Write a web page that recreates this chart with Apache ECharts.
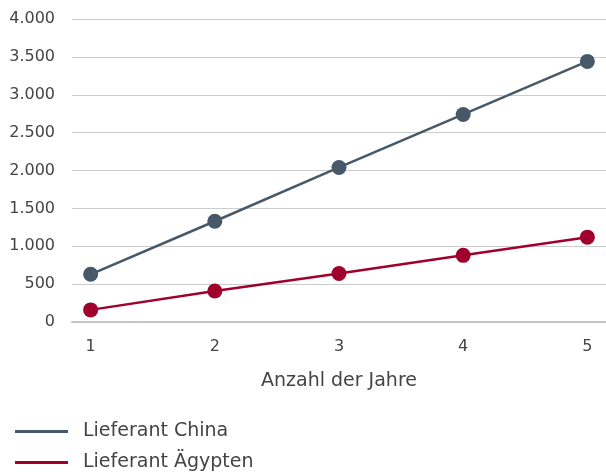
<!DOCTYPE html>
<html>
<head>
<meta charset="utf-8">
<script src="https://cdn.jsdelivr.net/npm/echarts@6/dist/echarts.min.js"></script>
<style>
html,body{margin:0;padding:0;background:#fff;}
#c{width:606px;height:474px;}
</style>
</head>
<body>
<div id="c"></div>
<script>
var years = [1, 2, 3, 4, 5];
var china = [630, 1330, 2040, 2740, 3440];
var egypt = [160, 410, 640, 880, 1120];
var seriesNames = ['Lieferant China', 'Lieferant Ägypten'];
var xAxisTitle = 'Anzahl der Jahre';

function pairs(vals){ return years.map(function(x,i){ return [x, vals[i]]; }); }
function fmt(v){ return String(v).replace(/\B(?=(\d{3})+(?!\d))/g, '.'); }

var font = '"DejaVu Sans", "Noto Sans", sans-serif';
var chart = echarts.init(document.getElementById('c'));
chart.setOption({
  animation: false,
  textStyle: {fontFamily: font},
  grid: {left: 72, right: 0, top: 19, bottom: 152, containLabel: false},
  xAxis: {
    type: 'value', min: 0.85, max: 5.15,
    name: xAxisTitle, nameLocation: 'middle', nameGap: 50,
    nameTextStyle: {fontSize: 19, color: '#444', fontFamily: font},
    axisLine: {show: true, lineStyle: {color: '#c4c4c4', width: 2}},
    axisTick: {show: false},
    splitLine: {show: false},
    axisLabel: {customValues: years, fontSize: 16, color: '#444', margin: 17, fontFamily: font}
  },
  yAxis: {
    type: 'value', min: 0, max: 4000, interval: 500,
    axisLine: {show: false}, axisTick: {show: false},
    splitLine: {lineStyle: {color: '#cccccc', width: 1}},
    axisLabel: {formatter: fmt, fontSize: 16, color: '#444', margin: 17, fontFamily: font}
  },
  legend: {
    orient: 'vertical', left: 15, top: 422, itemGap: 12, padding: 0,
    icon: 'rect', itemWidth: 53, itemHeight: 3,
    textStyle: {fontSize: 19, lineHeight: 18, color: '#444', fontFamily: font, padding: [0,0,0,10]},
    data: seriesNames
  },
  series: [
    {name: seriesNames[0], type: 'line', data: pairs(china), symbol: 'circle', symbolSize: 15,
     lineStyle: {color: '#475968', width: 2.5}, itemStyle: {color: '#475968'}, z: 3},
    {name: seriesNames[1], type: 'line', data: pairs(egypt), symbol: 'circle', symbolSize: 15,
     lineStyle: {color: '#a0002b', width: 2.5}, itemStyle: {color: '#a0002b'}, z: 3}
  ]
});
</script>
</body>
</html>
